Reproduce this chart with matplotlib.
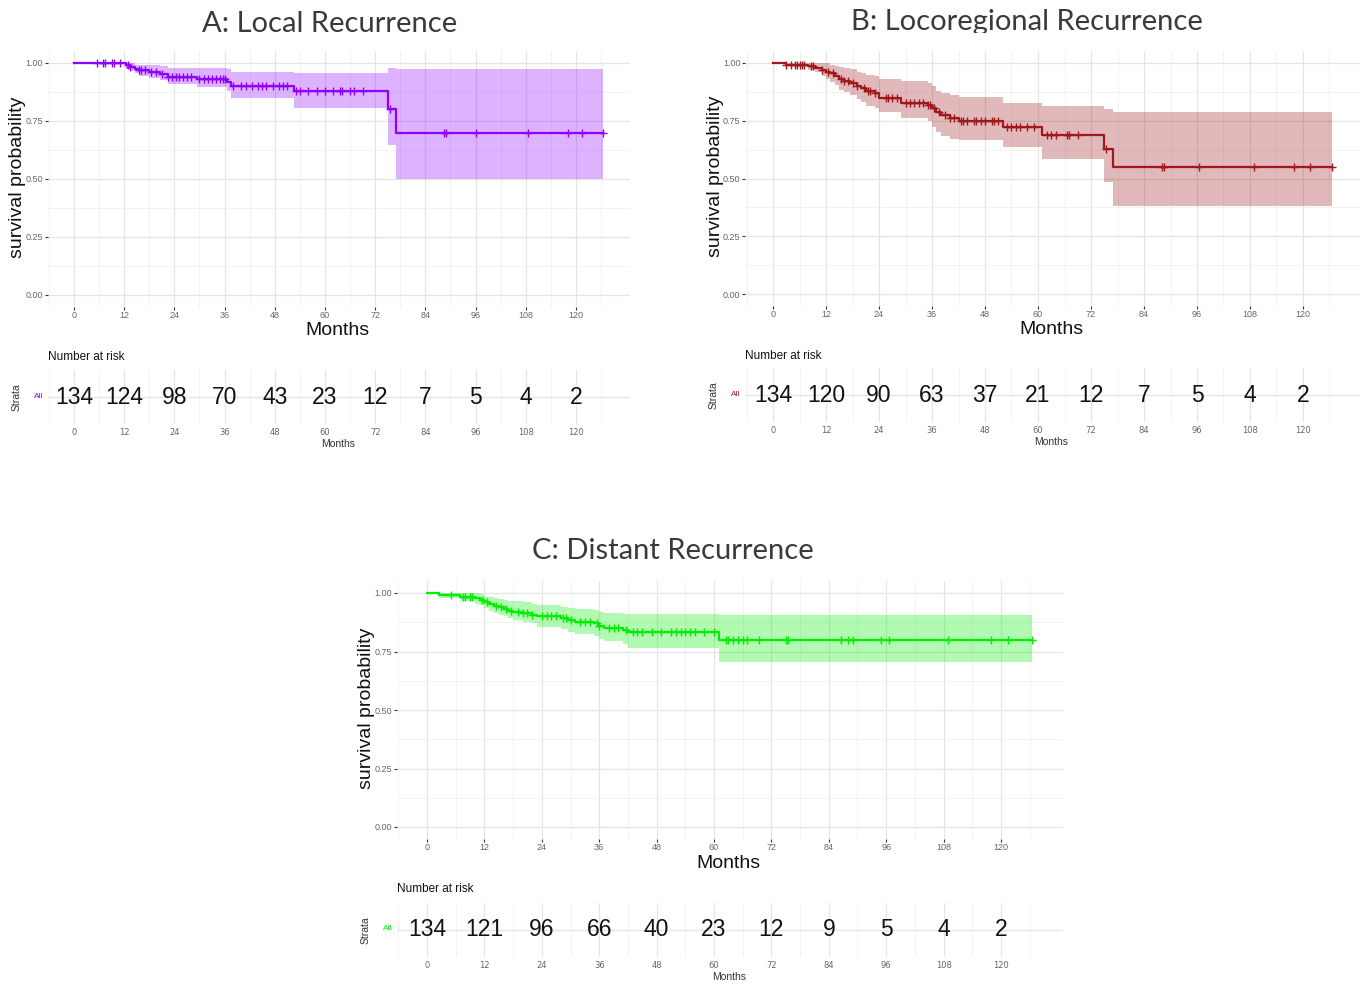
import numpy as np
import matplotlib
matplotlib.use("Agg")
import matplotlib.pyplot as plt
from matplotlib.patches import Rectangle

# Kaplan-Meier estimates
months = [0, 12, 24, 36, 48, 60, 72, 84, 96, 108, 120]
t_end = 126.5

A_times = [0, 12.5, 13.5, 14.5, 15.5, 18, 20.5, 22.5, 29.5, 36.5, 37.5, 52.5, 75, 77]
A_surv = [1.0, 0.992, 0.984, 0.976, 0.968, 0.96, 0.952, 0.94, 0.93, 0.92, 0.90, 0.878, 0.80, 0.70]
A_upper = [1.0, 1.0, 1.0, 0.99, 0.99, 0.99, 0.985, 0.98, 0.98, 0.975, 0.963, 0.957, 0.98, 0.974]
A_lower = [1.0, 0.975, 0.965, 0.955, 0.945, 0.935, 0.925, 0.91, 0.895, 0.88, 0.85, 0.805, 0.648, 0.50]
A_cens = [5.5, 7, 7.5, 9, 9.5, 11, 13, 13.5, 15.5, 16, 17, 18.5, 19.5, 21, 22.5, 23.5, 24.5,
          25, 26, 27, 28, 30, 31, 32, 33, 34, 35, 35.5, 36, 38, 40, 41, 42.5, 44, 45, 46,
          47.5, 49, 50, 51, 53, 54, 56, 58, 60, 62, 63.5, 64, 66, 67, 69, 75.5, 88.5, 89,
          96, 108.5, 118, 121.5, 126.5]
A_risk = [134, 124, 98, 70, 43, 23, 12, 7, 5, 4, 2]

B_times = [0, 3, 8, 9.5, 11, 12, 13, 14, 15, 16, 17.5, 19, 20, 21, 23, 24, 29, 35, 36, 37,
           38, 40, 42, 52, 61, 75, 77]
B_surv = [1.0, 0.993, 0.985, 0.978, 0.97, 0.963, 0.955, 0.945, 0.93, 0.92, 0.913, 0.90,
          0.89, 0.877, 0.87, 0.848, 0.829, 0.82, 0.805, 0.786, 0.773, 0.76, 0.747, 0.723,
          0.689, 0.628, 0.549]
B_upper = [1.0, 1.0, 1.0, 1.0, 1.0, 0.998, 0.993, 0.988, 0.983, 0.978, 0.972, 0.963, 0.957,
           0.95, 0.945, 0.93, 0.92, 0.912, 0.899, 0.88, 0.87, 0.86, 0.853, 0.827, 0.815,
           0.80, 0.786]
B_lower = [1.0, 0.986, 0.97, 0.96, 0.945, 0.93, 0.918, 0.905, 0.885, 0.873, 0.862, 0.845,
           0.832, 0.815, 0.805, 0.79, 0.76, 0.748, 0.725, 0.70, 0.683, 0.672, 0.665, 0.636,
           0.585, 0.487, 0.383]
B_cens = [3, 4, 5, 5.5, 6, 6.5, 7, 8.5, 9, 11, 12.5, 13.5, 15.5, 16, 17, 18, 19, 20.5, 21.5,
          22, 23, 25.5, 26, 27, 28, 30, 31, 32, 33, 34, 35, 35.5, 36.5, 37.5, 39, 40, 41,
          42.5, 43, 44, 45.5, 46, 47, 48, 49.5, 50, 51, 53, 54, 55, 56, 57.5, 59, 62, 63,
          64, 66.5, 67, 69, 75.5, 88, 88.5, 96.5, 109, 118, 121.5, 126.5]
B_risk = [134, 120, 90, 63, 37, 21, 12, 7, 5, 4, 2]

C_times = [0, 2.5, 7, 10, 11, 12, 13, 14, 15, 16, 17, 18, 20, 22, 23, 28, 29.5, 31, 35, 36,
           37, 41, 42, 61]
C_surv = [1.0, 0.993, 0.985, 0.978, 0.97, 0.96, 0.952, 0.945, 0.94, 0.932, 0.925, 0.92,
          0.915, 0.908, 0.90, 0.893, 0.885, 0.878, 0.87, 0.858, 0.85, 0.842, 0.835, 0.80]
C_upper = [1.0, 1.0, 1.0, 1.0, 0.995, 0.985, 0.982, 0.978, 0.975, 0.97, 0.967, 0.965, 0.96,
           0.955, 0.948, 0.942, 0.937, 0.932, 0.927, 0.92, 0.915, 0.912, 0.91, 0.906]
C_lower = [1.0, 0.98, 0.965, 0.955, 0.947, 0.938, 0.925, 0.915, 0.908, 0.90, 0.892, 0.885,
           0.878, 0.87, 0.855, 0.846, 0.835, 0.825, 0.815, 0.805, 0.795, 0.78, 0.766, 0.705]
C_cens = [5, 7.5, 8, 9, 9.5, 11.5, 12.5, 14.5, 15.5, 16.5, 17.5, 19, 20, 21, 22, 24, 25, 26,
          27, 28.5, 29, 30, 32, 33, 34, 35.5, 36, 38, 39, 40, 41.5, 43, 44, 45, 47, 49, 51,
          52, 53, 54, 55, 56, 58, 60, 62.5, 63, 64, 65, 66, 67, 69.5, 75, 75.5, 86.5, 88,
          89, 95, 96.5, 109, 118, 121.5, 126.5]
C_risk = [134, 121, 96, 66, 40, 23, 12, 9, 5, 4, 2]

ARIAL = ["Liberation Sans", "DejaVu Sans"]
W, H = 1360, 986
XLIM = (-6.33, 132.9)

fig = plt.figure(figsize=(W / 100, H / 100), dpi=100)
fig.patch.set_facecolor("white")


def fx(x):
    return x / W


def fy(y):
    return 1 - y / H


def add_px_axes(left, top, right, bottom):
    return fig.add_axes([fx(left), fy(bottom), (right - left) / W, (bottom - top) / H])


def style_grid(ax):
    for s in ax.spines.values():
        s.set_visible(False)
    ax.set_xticks(months)
    ax.set_xticks(np.arange(-6, 132, 12), minor=True)
    ax.grid(True, which="major", color="#E4E4E4", lw=0.9)
    ax.grid(True, which="minor", color="#F0F0F0", lw=0.6)
    ax.set_axisbelow(True)


def panel(title, tx, ty, x0, x120, y1, y0, risk_top, risk_bot,
          times, surv, upper, lower, cens, risk, col):
    s = (x120 - x0) / 120.0
    left, right = x0 + XLIM[0] * s, x0 + XLIM[1] * s
    h = y0 - y1
    ax = add_px_axes(left, y1 - 0.05 * h, right, y0 + 0.05 * h)
    ax.set_xlim(XLIM)
    ax.set_ylim(-0.05, 1.05)
    style_grid(ax)
    ax.set_yticks([0, 0.25, 0.5, 0.75, 1.0])
    ax.set_yticks([0.125, 0.375, 0.625, 0.875], minor=True)
    ax.set_yticklabels(["0.00", "0.25", "0.50", "0.75", "1.00"])
    ax.set_xticklabels([str(m) for m in months])
    ax.tick_params(which="major", length=2.5, width=0.8, color="#333333", pad=0.8,
                   labelsize=6.5, labelcolor="#666666")
    ax.tick_params(which="minor", length=0)
    for lbl in ax.get_xticklabels() + ax.get_yticklabels():
        lbl.set_family(ARIAL)

    t = list(times) + [t_end]
    ax.fill_between(t, list(lower) + [lower[-1]], list(upper) + [upper[-1]],
                    step="post", color=col, alpha=0.3, lw=0)
    ax.step(t, list(surv) + [surv[-1]], where="post", color=col, lw=1.6)
    idx = np.searchsorted(times, cens, side="right") - 1
    ax.plot(cens, np.array(surv)[idx], ls="none", marker="+", ms=6, mew=1.0, color=col)

    # risk table
    rt = add_px_axes(left, risk_top, right, risk_bot)
    rt.set_xlim(XLIM)
    rt.set_ylim(0, 1)
    style_grid(rt)
    rt.set_yticks([0.5])
    rt.set_yticklabels([])
    rt.set_xticklabels([str(m) for m in months])
    rt.tick_params(which="both", length=0, pad=3, labelsize=6, labelcolor="#666666")
    for m, n in zip(months, risk):
        rt.text(m, 0.5, str(n), ha="center", va="center", fontsize=16.5,
                family=ARIAL, color="#111111")

    # labels
    xc = (left + right) / 2 - 1
    fig.text(fx(tx), fy(ty), title, ha="center", va="center", fontsize=21,
             family=["Lato", "DejaVu Sans"], color="#3a3a3a")
    fig.text(fx(left - 30), fy((y1 + y0) / 2 - 2), "survival probability", rotation=90,
             ha="center", va="center", fontsize=14, family=ARIAL, color="#111111")
    fig.text(fx(xc), fy(y0 + 36), "Months", ha="center", va="center", fontsize=14,
             family=ARIAL, color="#111111")
    fig.text(fx(left), fy(y0 + 62), "Number at risk", ha="left", va="center",
             fontsize=8.5, family=ARIAL, color="#111111")
    rc = (risk_top + risk_bot) / 2
    fig.text(fx(left - 31), fy(rc), "Strata", rotation=90, ha="center", va="center",
             fontsize=7.5, family=ARIAL, color="#333333")
    fig.text(fx(left - 4), fy(rc - 1), "All", ha="right", va="center",
             fontsize=6, family=ARIAL, color=col)
    fig.text(fx(xc), fy(risk_bot + 20), "Months", ha="center", va="center",
             fontsize=7.5, family=ARIAL, color="#333333")
    return ax


panel("A: Local Recurrence", 330, 24, 74, 576, 63, 295, 370, 424,
      A_times, A_surv, A_upper, A_lower, A_cens, A_risk, "#8F00FF")
panel("B: Locoregional Recurrence", 1027, 22, 773, 1303, 63, 294, 368, 422,
      B_times, B_surv, B_upper, B_lower, B_cens, B_risk, "#A0181E")
panel("C: Distant Recurrence", 673, 551, 427, 1001, 593, 827, 903, 957,
      C_times, C_surv, C_upper, C_lower, C_cens, C_risk, "#00EE00")

# panel B picture overlaps the bottom of its title
fig.patches.append(Rectangle((fx(830), fy(40)), 400 / W, 7 / H, transform=fig.transFigure,
                             facecolor="white", edgecolor="none", zorder=10))

fig.savefig("out.png", dpi=100)
